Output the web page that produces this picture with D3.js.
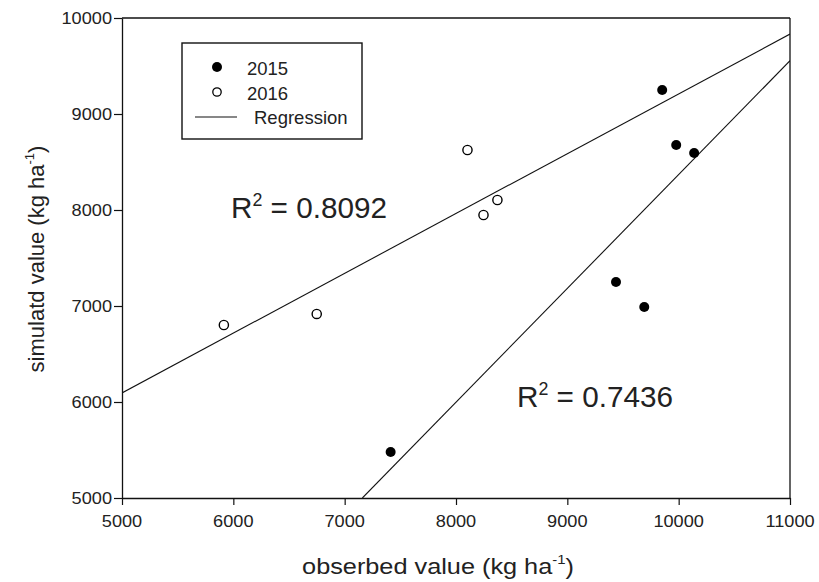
<!DOCTYPE html>
<html>
<head>
<meta charset="utf-8">
<script src="https://cdn.jsdelivr.net/npm/d3@7/dist/d3.min.js"></script>
<style>
  html, body { margin: 0; padding: 0; background: #fff; }
  svg { display: block; }
  text { font-family: "Liberation Sans", Arial, sans-serif; fill: #222; }
</style>
</head>
<body>
<svg id="chart" width="819" height="582"></svg>
<script>
// ---- data ----
const obs2015 = [7413, 9852, 9978, 10139, 9437, 9691];
const sim2015 = [5479, 9250, 8677, 8594, 7250, 6990];
const obs2016 = [5915, 6749, 8103, 8372, 8247];
const sim2016 = [6802, 6917, 8625, 8104, 7948];
const reg2016X = [5000, 11000];
const reg2016Y = [6094, 9833];
const reg2015X = [7159, 11000];
const reg2015Y = [5000, 9555];
const xTicks = [5000, 6000, 7000, 8000, 9000, 10000, 11000];
const yTicks = [5000, 6000, 7000, 8000, 9000, 10000];
const r2Labels = ["0.8092", "0.7436"];
const legendLabels = ["2015", "2016", "Regression"];

// ---- layout ----
const pL = 122, pR = 790, pT = 18, pB = 498;

const svg = d3.select("#chart");
const x = d3.scaleLinear().domain([5000, 11000]).range([pL, pR]);
const y = d3.scaleLinear().domain([5000, 10000]).range([pB, pT]);

function stext(g, px, py, sx) {
  return g.append("text")
    .attr("transform", `translate(${px},${py}) scale(${sx},1)`);
}

// clip
svg.append("clipPath").attr("id", "clip")
  .append("rect").attr("x", pL).attr("y", pT)
  .attr("width", pR - pL).attr("height", pB - pT);

// frame (top & right)
svg.append("line").attr("x1", pL).attr("x2", pR).attr("y1", pT).attr("y2", pT)
  .attr("stroke", "#111").attr("stroke-width", 1.3);
svg.append("line").attr("x1", pR).attr("x2", pR).attr("y1", pT).attr("y2", pB)
  .attr("stroke", "#111").attr("stroke-width", 1.3);

// axes
const xAxis = d3.axisBottom(x).tickValues(xTicks).tickSize(7).tickSizeOuter(0).tickFormat("");
const yAxis = d3.axisLeft(y).tickValues(yTicks).tickSize(8).tickSizeOuter(0).tickFormat("");
const gx = svg.append("g").attr("transform", `translate(0,${pB})`).call(xAxis);
const gy = svg.append("g").attr("transform", `translate(${pL},0)`).call(yAxis);
[gx, gy].forEach(g => {
  g.select(".domain").attr("stroke", "#111").attr("stroke-width", 1.3);
  g.selectAll(".tick line").attr("stroke", "#111").attr("stroke-width", 1.2);
});

// tick labels
const tl = svg.append("g");
xTicks.forEach(v => {
  stext(tl, x(v), 527, 1.07).attr("text-anchor", "middle").attr("font-size", 17).text(v);
});
yTicks.forEach(v => {
  stext(tl, 112, y(v) + 6, 1.07).attr("text-anchor", "end").attr("font-size", 17).text(v);
});

// axis titles
const xt = stext(svg, 438, 574, 1.15).attr("text-anchor", "middle").attr("font-size", 22);
xt.append("tspan").text("obserbed value (kg ha");
xt.append("tspan").attr("font-size", 13).attr("dy", -10).text("-1");
xt.append("tspan").attr("dy", 10).text(")");

const yt = svg.append("text")
  .attr("transform", `translate(44,259) rotate(-90)`)
  .attr("text-anchor", "middle").attr("font-size", 22);
yt.append("tspan").text("simulatd value (kg ha");
yt.append("tspan").attr("font-size", 13).attr("dy", -10).text("-1");
yt.append("tspan").attr("dy", 10).text(")");

// regression lines
const line = d3.line().x(d => x(d[0])).y(d => y(d[1]));
const plot = svg.append("g").attr("clip-path", "url(#clip)");
[[reg2016X, reg2016Y], [reg2015X, reg2015Y]].forEach(([xs, ys]) => {
  plot.append("path").datum(xs.map((v, i) => [v, ys[i]]))
    .attr("d", line).attr("fill", "none").attr("stroke", "#111").attr("stroke-width", 1.1);
});

// points
plot.selectAll("circle.p15").data(obs2015.map((v, i) => [v, sim2015[i]]))
  .enter().append("circle").attr("class", "p15")
  .attr("cx", d => x(d[0])).attr("cy", d => y(d[1])).attr("r", 5).attr("fill", "#000");
plot.selectAll("circle.p16").data(obs2016.map((v, i) => [v, sim2016[i]]))
  .enter().append("circle").attr("class", "p16")
  .attr("cx", d => x(d[0])).attr("cy", d => y(d[1])).attr("r", 4.6)
  .attr("fill", "#fff").attr("stroke", "#000").attr("stroke-width", 1.4);

// R² labels
const r2pos = [[231, 218], [517, 407]];
r2Labels.forEach((lab, i) => {
  const t = stext(svg, r2pos[i][0], r2pos[i][1], 0.99).attr("font-size", 30);
  t.append("tspan").text("R");
  t.append("tspan").attr("font-size", 18).attr("dy", -12).text("2");
  t.append("tspan").attr("dy", 12).text(" = " + lab);
});

// legend
const lg = svg.append("g");
lg.append("rect").attr("x", 182).attr("y", 43).attr("width", 180).attr("height", 96)
  .attr("fill", "#fff").attr("stroke", "#111").attr("stroke-width", 1.4);
lg.append("circle").attr("cx", 217).attr("cy", 67).attr("r", 5).attr("fill", "#000");
lg.append("circle").attr("cx", 217).attr("cy", 92).attr("r", 4.2)
  .attr("fill", "#fff").attr("stroke", "#000").attr("stroke-width", 1.3);
lg.append("line").attr("x1", 195).attr("x2", 237).attr("y1", 117).attr("y2", 117)
  .attr("stroke", "#111").attr("stroke-width", 1.1);
stext(lg, 247, 75, 1).attr("font-size", 18.5).text(legendLabels[0]);
stext(lg, 247, 100, 1).attr("font-size", 18.5).text(legendLabels[1]);
stext(lg, 254, 124, 1).attr("font-size", 18.5).text(legendLabels[2]);
</script>
</body>
</html>
